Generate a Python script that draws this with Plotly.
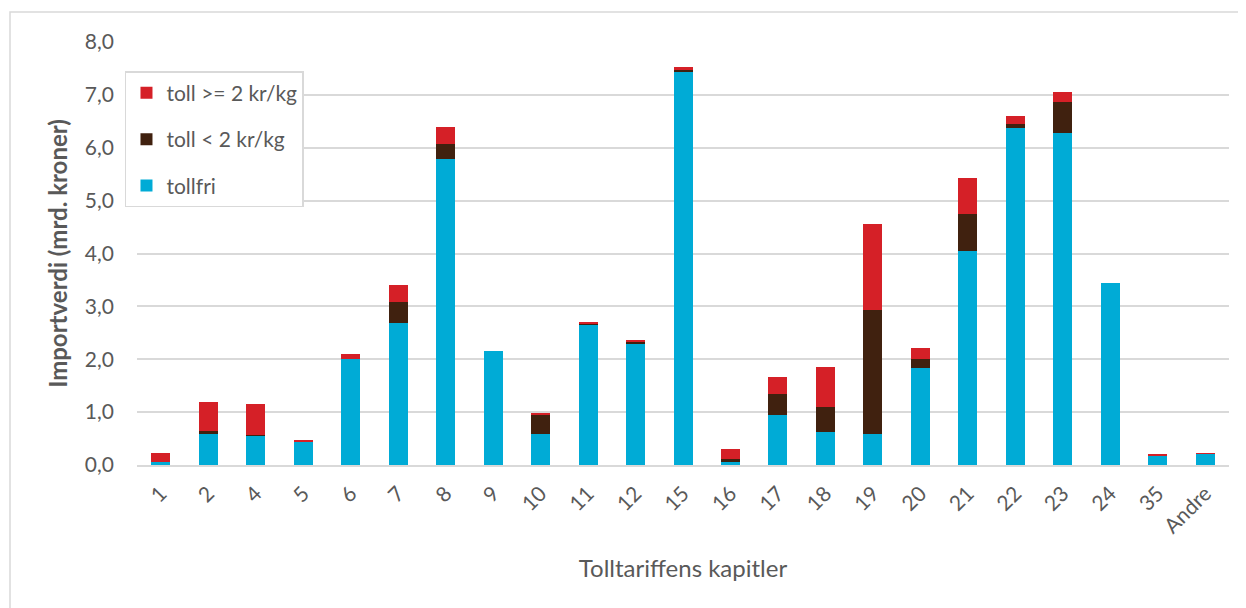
import plotly.graph_objects as go

categories = ["1", "2", "4", "5", "6", "7", "8", "9", "10", "11", "12", "15",
              "16", "17", "18", "19", "20", "21", "22", "23", "24", "35", "Andre"]
tollfri = [0.06, 0.59, 0.56, 0.44, 2.00, 2.68, 5.79, 2.16, 0.59, 2.66, 2.30, 7.45,
           0.06, 0.95, 0.63, 0.58, 1.83, 4.04, 6.38, 6.28, 3.44, 0.17, 0.22]
toll_lt2 = [0.00, 0.06, 0.01, 0.00, 0.00, 0.40, 0.28, 0.00, 0.37, 0.02, 0.03, 0.03,
            0.05, 0.39, 0.46, 2.35, 0.18, 0.71, 0.07, 0.59, 0.00, 0.00, 0.00]
toll_ge2 = [0.17, 0.54, 0.59, 0.02, 0.09, 0.32, 0.32, 0.00, 0.01, 0.02, 0.04, 0.05,
            0.19, 0.32, 0.76, 1.62, 0.21, 0.68, 0.16, 0.19, 0.00, 0.04, 0.005]
series_names = ["tollfri", "toll < 2 kr/kg", "toll >= 2 kr/kg"]
y_ticks = [0, 1, 2, 3, 4, 5, 6, 7, 8]

colors = ["#00ABD6", "#40210F", "#D52027"]
legend_ranks = [3, 2, 1]
font_family = "Lato, 'Open Sans', sans-serif"
grey = "#595959"

fig = go.Figure()
for name, vals, col, rank in zip(series_names, [tollfri, toll_lt2, toll_ge2], colors, legend_ranks):
    fig.add_trace(go.Bar(
        x=categories, y=vals, name=name, legendgroup=name, legendrank=rank,
        marker=dict(color=col, line=dict(width=0)),
    ))

fig.update_layout(
    barmode="stack",
    bargap=0.6,
    width=1238, height=600,
    margin=dict(l=129, r=17, t=34, b=143),
    paper_bgcolor="white", plot_bgcolor="white",
    separators=", ",
    font=dict(family=font_family, color=grey),
    showlegend=True,
    legend=dict(
        x=-0.011, y=0.931, xanchor="left", yanchor="top",
        bgcolor="white", bordercolor="#d9d9d9", borderwidth=1.5,
        font=dict(size=21, color=grey, family=font_family),
        traceorder="grouped", tracegroupgap=16,
    ),
    xaxis=dict(
        type="category",
        tickangle=-45,
        tickfont=dict(size=21, color=grey),
        showgrid=False,
        showline=True, linecolor="#d9d9d9", linewidth=2,
        ticks="", ticklabelstandoff=6,
        title=dict(text="Tolltariffens kapitler", font=dict(size=24, color=grey), standoff=24),
        fixedrange=True,
    ),
    yaxis=dict(
        range=[0, 8],
        tickvals=y_ticks,
        tickformat=".1f",
        tickfont=dict(size=21, color=grey),
        showgrid=True, gridcolor="#d9d9d9", gridwidth=1.5,
        zeroline=False,
        showline=False, ticks="", ticklabelstandoff=22,
        title=dict(text="<b>Importverdi (mrd. kroner)</b>", font=dict(size=24, color=grey), standoff=10),
        fixedrange=True,
    ),
    shapes=[dict(
        type="rect", xref="paper", yref="paper",
        x0=-0.1163, x1=1.2, y0=-0.6, y1=1.071,
        line=dict(color="#d9d9d9", width=1.5), fillcolor="rgba(0,0,0,0)", layer="below",
    )],
)

fig.write_html("out.html")
